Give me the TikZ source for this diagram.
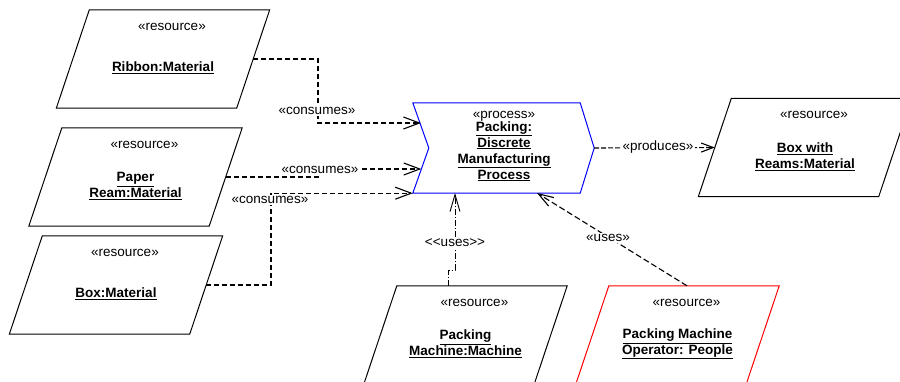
\documentclass[tikz,border=0pt]{standalone}
\usepackage{fontspec}
\setmainfont{Liberation Sans}
\usetikzlibrary{arrows.meta,calc}

\tikzset{
   resource/.style={minimum width=180pt, minimum height=98pt, inner sep=0pt},
   stereo/.style={inner sep=0pt, font=\fontsize{13.5}{16}\selectfont},
   objname/.style={inner sep=0pt, align=center, font=\fontsize{13.5}{16}\selectfont\bfseries},
   lbl/.style={fill=white, inner sep=1.5pt, font=\fontsize{13.5}{16}\selectfont},
   consumes/.style={line width=1.1pt, dash pattern=on 5pt off 3pt, -{Straight Barb[length=16pt,width=12pt]}},
   produces/.style={line width=1.1pt, dash pattern=on 5pt off 2pt, -{Straight Barb[length=12pt,width=9pt]}},
   usesm/.style={line width=0.9pt, dash pattern=on 6pt off 2pt on 1pt off 2pt, -{Straight Barb[length=17pt,width=10pt]}},
   usesp/.style={line width=1.1pt, dash pattern=on 6pt off 3pt, -{Straight Barb[length=15pt,width=10pt]}}
}

% resource object drawn as a parallelogram
\newcommand{\resbox}[5][]{%
   \node[resource, #1] (#2) at #3 {};
   \draw[#4, line width=1pt] ([xshift=16.5pt]#2.north west) -- ([xshift=16.5pt]#2.north east)
      -- ([xshift=-16.5pt]#2.south east) -- ([xshift=-16.5pt]#2.south west) -- cycle;
   \node[stereo] (#2-st) at ([xshift=9pt, yshift=-17pt]#2.north) {«resource»};
   \node[objname] (#2-nm) at ([yshift=-9pt]#2.center) {#5};
}

\begin{document}
\begin{tikzpicture}[x=1pt, y=-1pt]
   \useasboundingbox (0, 0) rectangle (900, 381);
   \clip (0, 0) rectangle (900, 381);

   % resources
   \resbox{rib}{(163, 59)}{black}{\underline{Ribbon:Material}}
   \resbox{paper}{(135.5, 177)}{black}{\underline{Paper}\\\underline{Ream:Material}}
   \resbox{box}{(116, 285)}{black}{\underline{Box:Material}}
   \resbox{reams}{(805, 147.5)}{black}{\underline{Box with}\\\underline{Reams:Material}}
   \resbox[minimum width=170pt]{mach}{(465.5, 335)}{black}{\underline{Packing}\\\underline{Machine:Machine}}
   \resbox[minimum width=170pt]{op}{(677.5, 335)}{red}{\underline{Packing Machine}\\\underline{Operator: People}}

   % process
   \node[minimum width=167pt, minimum height=90pt, inner sep=0pt] (proc) at (496.5, 148) {};
   \draw[blue, line width=1pt] (proc.north west) -- (proc.north east) -- ([xshift=14pt]proc.east)
      -- (proc.south east) -- (proc.south west) -- ([xshift=16pt]proc.west) -- cycle;
   \node[objname, font=\fontsize{13.5}{16}\selectfont] (proc-txt) at (504, 146)
      {«process»\\[-3pt]\textbf{\underline{Packing:}}\\\textbf{\underline{Discrete}}\\
       \textbf{\underline{Manufacturing}}\\\textbf{\underline{Process}}};

   % connector ends
   \coordinate (in1) at (421, 123);
   \coordinate (in2) at (421.3, 169);
   \coordinate (k1) at (318, 100);
   \coordinate (k2) at (320, 172);
   \coordinate (k3) at (271, 200);
   \coordinate (k4) at (455, 270);
   \coordinate (use1) at (455, 193);
   \coordinate (use2) at (537, 193);

   \draw[consumes] (rib.east) -| (k1) |- (in1);
   \draw[consumes] (paper.east) -| (k2) |- (in2);
   \draw[consumes] (box.east) -| (k3) |- (proc.south west);
   \draw[produces] ([xshift=14pt]proc.east) -- (reams.west);
   \draw[usesm] ([xshift=-17pt]mach.north) |- (k4) -- (use1);
   \draw[usesp] ([xshift=9.5pt]op.north) -- (use2);

   % labels
   \node[lbl] (l1) at (317, 111) {«consumes»};
   \node[lbl] (l2) at (320, 170) {«consumes»};
   \node[lbl] (l3) at (270, 200) {«consumes»};
   \node[lbl] (l4) at (658, 147) {«produces»};
   \node[lbl] (l5) at (455, 243) {<{}<uses>{}>};
   \node[lbl] (l6) at (608, 238) {«uses»};
\end{tikzpicture}
\end{document}
